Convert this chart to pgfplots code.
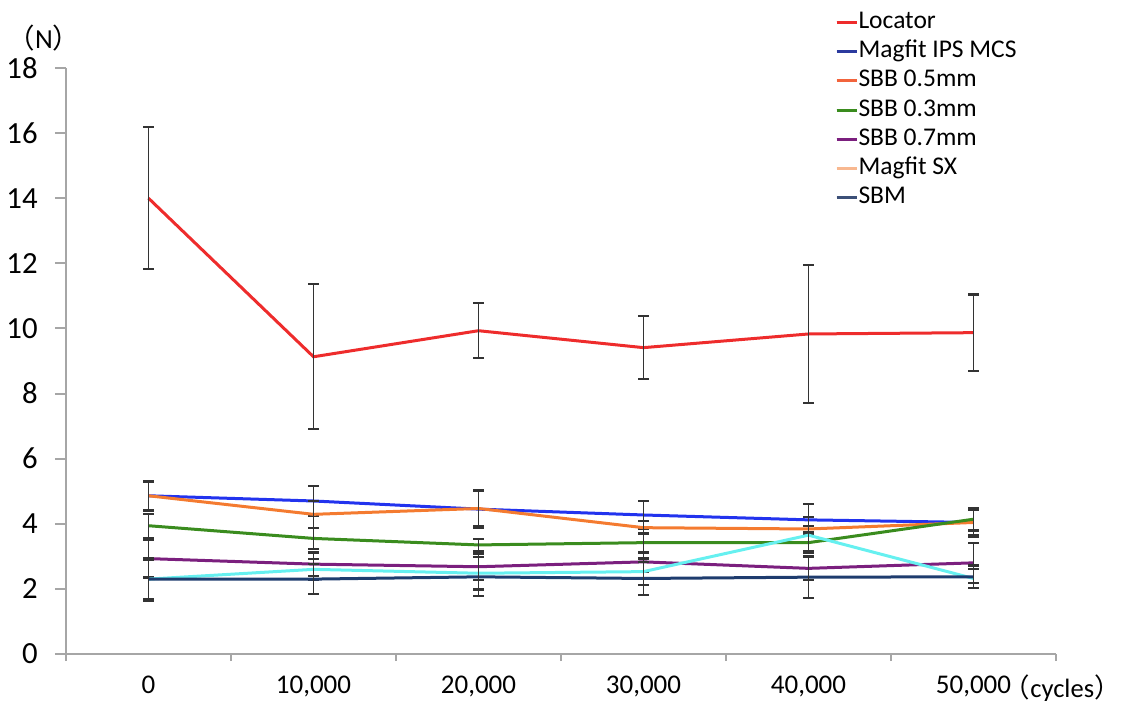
\documentclass[border=0pt]{standalone}
\usepackage{pgfplots}
\usepackage{pgfplotstable}
\pgfplotsset{compat=1.18}
\usepackage{fontspec}
\setmainfont{Carlito}
\newfontfamily\cjk{Noto Sans CJK JP}

\definecolor{cLoc}{HTML}{EE2C2C}
\definecolor{cBlu}{HTML}{2233EE}
\definecolor{cOra}{HTML}{F47B30}
\definecolor{cGre}{HTML}{3A8C1E}
\definecolor{cPur}{HTML}{7B1F7E}
\definecolor{cCya}{HTML}{66F0F0}
\definecolor{cNav}{HTML}{1E3C6E}
\definecolor{lBlu}{HTML}{2B3A9E}
\definecolor{lOra}{HTML}{F2643C}
\definecolor{lSX}{HTML}{F8B890}
\definecolor{lNav}{HTML}{3C5078}
\definecolor{axgray}{HTML}{A6A6A6}

\pgfplotstableread{
x Loc Loce Blu Blue Ora Orae Gre Gree Pur Pure Cya Cyae Nav Nave
0 14.00 2.18 4.86 0.43 4.86 0.45 3.94 0.37 2.93 0.58 2.30 0.60 2.30 0.66
1 9.13 2.23 4.70 0.46 4.29 0.41 3.55 0.33 2.76 0.36 2.60 0.31 2.30 0.46
2 9.93 0.84 4.45 0.57 4.47 0.55 3.35 0.19 2.68 0.41 2.48 0.50 2.37 0.60
3 9.41 0.97 4.27 0.44 3.88 0.20 3.42 0.30 2.83 0.30 2.53 0.40 2.32 0.50
4 9.83 2.12 4.12 0.49 3.84 0.10 3.42 0.25 2.63 0.35 3.65 0.55 2.36 0.65
5 9.87 1.17 4.04 0.45 4.04 0.40 4.14 0.35 2.80 0.62 2.32 0.30 2.37 0.35
}\data

\begin{document}
\begin{tikzpicture}
\useasboundingbox (-26.4pt,-18.8pt) rectangle (423.6pt,261.6pt);
\begin{axis}[
  scale only axis,
  width=396pt, height=234.4pt,
  xmin=-0.5, xmax=5.5, ymin=0, ymax=18,
  axis x line*=bottom, axis y line*=left,
  axis line style={-, axgray, line width=0.8pt},
  tick align=outside,
  tick style={axgray, line width=0.8pt},
  major tick length=4.4pt,
  minor tick length=2.9pt,
  ytick={0,2,...,18},
  xtick={0,...,5},
  xticklabels={0,{10,000},{20,000},{30,000},{40,000},{50,000}},
  minor xtick={-0.5,0.5,...,5.5},
  every major x tick/.append style={draw=none},
  /pgf/number format/assume math mode=true,
  yticklabel style={font=\fontsize{12.3}{14}\selectfont, anchor=east, xshift=-3.4pt},
  xticklabel style={font=\fontsize{10.8}{12}\selectfont, yshift=-0.8pt},
  clip=false,
  legend style={at={(axis description cs:0.7768,1.0964)}, anchor=north west,
    draw=none, fill=none, inner sep=0pt, outer sep=0pt,
    font=\fontsize{10.2}{12}\selectfont,
    nodes={inner sep=0pt, text height=6.8pt, text depth=2pt},
    row sep=2.9pt, legend cell align=left},
  legend image code/.code={\draw[#1, line width=0.9pt] (0pt,0pt) -- (6pt,0pt); \path (0pt,0pt) -- (8.2pt,0pt);},
  every axis plot/.append style={line width=1.2pt,
    error bars/y dir=both, error bars/y explicit,
    error bars/error bar style={line width=0.7pt, color=black!80},
    error bars/error mark=|,
    error bars/error mark options={line width=0.9pt, color=black!80, mark size=2.1pt}},
]
\addlegendimage{cLoc}\addlegendentry{Locator}
\addlegendimage{lBlu}\addlegendentry{Magfit IPS MCS}
\addlegendimage{lOra}\addlegendentry{SBB 0.5mm}
\addlegendimage{cGre}\addlegendentry{SBB 0.3mm}
\addlegendimage{cPur}\addlegendentry{SBB 0.7mm}
\addlegendimage{lSX}\addlegendentry{Magfit SX}
\addlegendimage{lNav}\addlegendentry{SBM}

\addplot[cLoc, forget plot] table[x=x, y=Loc, y error=Loce] {\data};
\addplot[cBlu, forget plot] table[x=x, y=Blu, y error=Blue] {\data};
\addplot[cOra, forget plot] table[x=x, y=Ora, y error=Orae] {\data};
\addplot[cGre, forget plot] table[x=x, y=Gre, y error=Gree] {\data};
\addplot[cPur, forget plot] table[x=x, y=Pur, y error=Pure] {\data};
\addplot[cCya, forget plot] table[x=x, y=Cya, y error=Cyae] {\data};
\addplot[cNav, forget plot] table[x=x, y=Nav, y error=Nave] {\data};

\node[font=\fontsize{11}{12}\selectfont, inner sep=0pt] at (axis description cs:-0.0222,1.051) {{\cjk （}N{\cjk ）}};
\node[font=\fontsize{10.6}{12}\selectfont, inner sep=0pt, anchor=west] at (axis description cs:0.9616,-0.059) {\kern-0.55em{\cjk （}cycles{\cjk ）}\kern-0.4em};
\end{axis}
\end{tikzpicture}
\end{document}
